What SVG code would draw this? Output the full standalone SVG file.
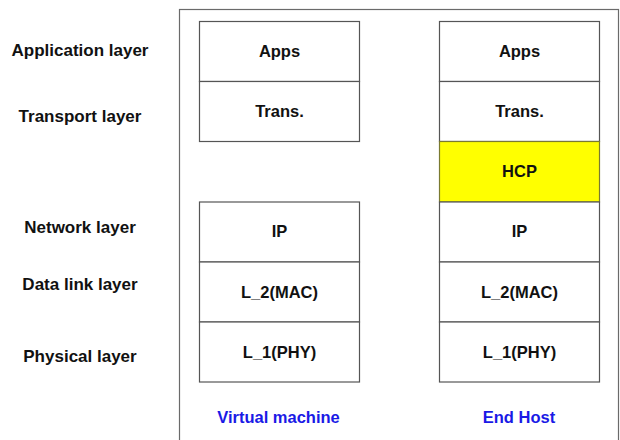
<svg xmlns="http://www.w3.org/2000/svg" width="620" height="440" viewBox="0 0 620 440">
<style>
.frame{fill:none;stroke:#6a6a6a;stroke-width:1.2}
.box{fill:#ffffff;stroke:#555555;stroke-width:1.2}
.hcp{fill:#ffff00;stroke:#7a7a30;stroke-width:1.2}
text{font-family:"Liberation Sans",Arial,sans-serif;font-weight:bold;font-size:16.5px;text-anchor:middle;fill:#111111}
.side{font-size:17px}
.blue{fill:#1a1ae6}
</style>
<rect width="620" height="440" fill="#ffffff"/>
<rect class="frame" x="179.5" y="9.5" width="439" height="440"/>
<g id="layer-labels">
<text class="side" x="80" y="56">Application layer</text>
<text class="side" x="80" y="122">Transport layer</text>
<text class="side" x="80" y="233">Network layer</text>
<text class="side" x="80" y="290">Data link layer</text>
<text class="side" x="80" y="362">Physical layer</text>
</g>
<g id="vm-apps"><rect class="box" x="199.5" y="21.5" width="160" height="60"/><text x="279.5" y="57">Apps</text></g>
<g id="vm-trans"><rect class="box" x="199.5" y="81.5" width="160" height="60"/><text x="279.5" y="117">Trans.</text></g>
<g id="vm-ip"><rect class="box" x="199.5" y="202" width="160" height="60"/><text x="279.5" y="237">IP</text></g>
<g id="vm-l2"><rect class="box" x="199.5" y="262" width="160" height="60"/><text x="279.5" y="298">L_2(MAC)</text></g>
<g id="vm-l1"><rect class="box" x="199.5" y="322" width="160" height="60"/><text x="279.5" y="358">L_1(PHY)</text></g>
<g id="vm-label"><text class="blue" x="278.5" y="423">Virtual machine</text></g>
<g id="eh-apps"><rect class="box" x="439.5" y="21.5" width="160" height="60"/><text x="519.5" y="57">Apps</text></g>
<g id="eh-trans"><rect class="box" x="439.5" y="81.5" width="160" height="60"/><text x="519.5" y="117">Trans.</text></g>
<g id="eh-hcp"><rect class="hcp" x="439.5" y="141.5" width="160" height="60.5"/><text x="519.5" y="177">HCP</text></g>
<g id="eh-ip"><rect class="box" x="439.5" y="202" width="160" height="60"/><text x="519.5" y="237">IP</text></g>
<g id="eh-l2"><rect class="box" x="439.5" y="262" width="160" height="60"/><text x="519.5" y="298">L_2(MAC)</text></g>
<g id="eh-l1"><rect class="box" x="439.5" y="322" width="160" height="60"/><text x="519.5" y="358">L_1(PHY)</text></g>
<g id="eh-label"><text class="blue" x="519" y="423">End Host</text></g>
<g id="connectors"></g>
</svg>
